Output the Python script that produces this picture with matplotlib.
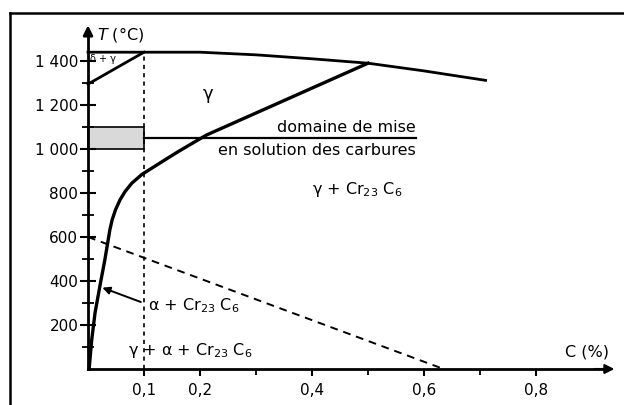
import numpy as np
import matplotlib
matplotlib.use('Agg')
import matplotlib.pyplot as plt
from matplotlib.ticker import FixedLocator

plt.rcParams['font.family'] = ['DejaVu Sans']

# ----------------------------------------------------------------
# data (C in %, T in degC)
liq_c = [0.0, 0.1, 0.2, 0.3, 0.4, 0.5, 0.6, 0.71]
liq_t = [1440, 1440, 1440, 1428, 1410, 1390, 1355, 1312]

delta_c = [0.0, 0.1]
delta_t = [1295, 1440]

solvus_c = [0.002, 0.0066, 0.0125, 0.021, 0.030, 0.036, 0.039, 0.043, 0.049,
            0.057, 0.066, 0.078, 0.096, 0.114, 0.132, 0.161, 0.191, 0.212, 0.5]
solvus_t = [0, 132, 254, 374, 495, 586, 632, 677, 723,
            768, 806, 844, 884, 913, 942, 988, 1033, 1064, 1390]

dash_c = [0.0, 0.635]
dash_t = [600, 0]

box_c = [0.0, 0.1]
box_t = [1000, 1100]
mise_c = [0.1, 0.586]
mise_t = 1050

xticks = [0.1, 0.2, 0.4, 0.6, 0.8]
xticklabels = ['0,1', '0,2', '0,4', '0,6', '0,8']
xminor = [0.3, 0.5, 0.7]
yticks = [200, 400, 600, 800, 1000, 1200, 1400]
yticklabels = ['200', '400', '600', '800', '1 000', '1 200', '1 400']
yminor = [100, 300, 500, 700, 900, 1100, 1300]

# ----------------------------------------------------------------
W, H = 624, 405
x0, y0 = 88, 369          # pixel of origin
sx, sy = 560.0, 0.22      # px per unit C, px per degC

fig = plt.figure(figsize=(W / 100, H / 100), dpi=100)
ax = fig.add_axes([0, 0, 1, 1])
ax.set_xlim(-x0 / sx, (W - x0) / sx)
ax.set_ylim((y0 - H) / sy, y0 / sy)
ax.patch.set_alpha(0)

# outer frame (left and top only)
fig.add_artist(plt.Line2D([10 / W, 10 / W], [0, 1 - 13 / H], color='black', lw=1.8))
fig.add_artist(plt.Line2D([10 / W, 1], [1 - 13 / H, 1 - 13 / H], color='black', lw=1.8))

# axes as spines through origin
for s in ['top', 'right']:
    ax.spines[s].set_visible(False)
ax.spines['left'].set_position(('data', 0))
ax.spines['bottom'].set_position(('data', 0))
ax.spines['left'].set_bounds(0, 1520)
ax.spines['bottom'].set_bounds(0, 0.92)
ax.spines['left'].set_linewidth(2)
ax.spines['bottom'].set_linewidth(2)

ax.set_xticks(xticks)
ax.set_xticklabels(xticklabels)
ax.xaxis.set_minor_locator(FixedLocator(xminor))
ax.set_yticks(yticks)
ax.set_yticklabels(yticklabels)
ax.yaxis.set_minor_locator(FixedLocator(yminor))
ax.tick_params(axis='y', which='major', direction='inout', length=12, width=1.5,
               labelsize=11, pad=1)
ax.tick_params(axis='y', which='minor', direction='inout', length=8, width=1.3)
ax.tick_params(axis='x', which='major', direction='out', length=5, width=1.5,
               labelsize=11, pad=5)
ax.tick_params(axis='x', which='minor', direction='out', length=4, width=1.3)

# arrows
ax.annotate('', xy=(0, 1575), xytext=(0, 1500),
            arrowprops=dict(arrowstyle='-|>', color='black', lw=2, mutation_scale=14))
ax.annotate('', xy=(0.945, 0), xytext=(0.9, 0),
            arrowprops=dict(arrowstyle='-|>', color='black', lw=1.5, mutation_scale=14))

# curves
ax.plot(liq_c, liq_t, color='black', lw=2)
ax.plot(delta_c, delta_t, color='black', lw=2)
ax.plot(solvus_c, solvus_t, color='black', lw=2.4, solid_joinstyle='round')
ax.plot(dash_c, dash_t, color='black', lw=1.4, ls=(0, (4, 3)))
ax.plot([0.1, 0.1], [0, 1440], color='black', lw=1.2, ls=(0, (2.5, 2.5)))

# solution-annealing box and line
ax.fill_between(box_c, box_t[0], box_t[1], facecolor='#d9d9d9', edgecolor='black', lw=1.2)
ax.plot(mise_c, [mise_t, mise_t], color='black', lw=1.6)

# labels
ax.text(0.016, 1520, '$T$ (°C)', fontsize=11.5, va='center', ha='left')
ax.text(0.852, 77, 'C (%)', fontsize=11.5, va='center', ha='left')
ax.text(0.004, 1410, 'δ + γ', fontsize=7, va='center', ha='left')
ax.text(0.205, 1250, 'γ', fontsize=13, va='center', ha='left')
ax.text(0.586, 1100, 'domaine de mise', fontsize=11.5, va='center', ha='right')
ax.text(0.586, 995, 'en solution des carbures', fontsize=11.5, va='center', ha='right')
ax.text(0.48, 815, 'γ + Cr$_{23}$ C$_6$', fontsize=11.5, va='center', ha='center')
ax.text(0.108, 286, 'α + Cr$_{23}$ C$_6$', fontsize=11.5, va='center', ha='left')
ax.text(0.072, 86, 'γ + α + Cr$_{23}$ C$_6$', fontsize=11.5, va='center', ha='left')
ax.annotate('', xy=(0.021, 374), xytext=(0.099, 300),
            arrowprops=dict(arrowstyle='-|>', color='black', lw=1.4, mutation_scale=11))

fig.savefig('out.png', dpi=100)
